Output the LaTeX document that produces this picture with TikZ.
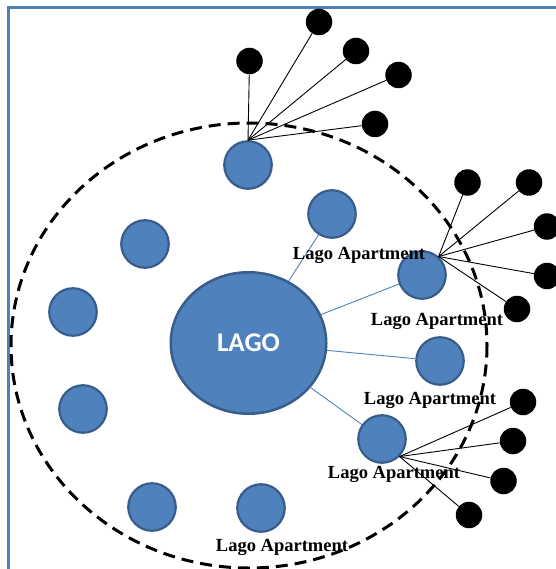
\documentclass[tikz,border=0pt]{standalone}
\usepackage{fontspec}
\setmainfont{Liberation Serif}
\newfontfamily\lagofont{Carlito}
\usetikzlibrary{shapes.geometric}
\definecolor{lagoblue}{HTML}{4F81BD}
\definecolor{lagoedge}{HTML}{385D8A}

\begin{document}
\begin{tikzpicture}[
		x=1pt, y=-1pt,
		every node/.style={
				font=\bfseries\fontsize{18.5}{20}\selectfont,
				inner sep=0pt,
			},
		house/.style={circle, fill=lagoblue, draw=lagoedge, line width=2.2pt, minimum size=47.5pt},
		user/.style={circle, fill=black, minimum size=26.5pt},
		link/.style={lagoblue, line width=0.9pt},
		spoke/.style={black, line width=0.9pt},]
	\useasboundingbox (0,0) rectangle (555,569);
	\draw [lagoblue, line width=2.5pt] (8.5,620) -- (8.5,7.5) -- (620,7.5);

	% centre and apartments
	\node[ellipse, fill=lagoblue, draw=lagoedge, line width=2.5pt,
		minimum width=155.5pt, minimum height=141.5pt,
		font=\lagofont\bfseries\fontsize{27}{29}\selectfont, text=white] (lago) at (248.5,343) {LAGO};
	\foreach \n/\p in {c1/{(248,165)}, c2/{(332,214)}, c3/{(422,275)}, c4/{(440,361)},
			c5/{(382,439)}, c6/{(261,508)}, c7/{(152,507)}, c8/{(83,409)},
			c9/{(73,312)}, c10/{(145,244)}} {
			\node[house] (\n) at \p {};
		}
	\foreach \n in {c2,c3,c4,c5} {
			\draw [link] (lago) -- (\n);
		}

	% labels
	\node (lbl1) at (359,255.5) {Lago Apartment};
	\node (lbl2) at (437,321) {Lago Apartment};
	\node (lbl3) at (430,400.5) {Lago Apartment};
	\node (lbl4) at (394,474.5) {Lago Apartment};
	\node (lbl5) at (282,547) {Lago Apartment};

	% users
	\coordinate (hubA) at (c1.north);
	\coordinate (hubB) at (c3.48);
	\coordinate (hubC) at (c5.-45);
	\foreach \n/\p/\h in {a1/{(249.5,61)}/hubA, a2/{(319,22)}/hubA, a3/{(356,51)}/hubA,
			a4/{(398.5,75)}/hubA, a5/{(375,124)}/hubA,
			b1/{(467.5,182.5)}/hubB, b2/{(529,182.5)}/hubB, b3/{(547,226.5)}/hubB,
			b4/{(547,276)}/hubB, b5/{(517,309)}/hubB,
			d1/{(523,402)}/hubC, d2/{(513,441)}/hubC, d3/{(503.5,481)}/hubC,
			d4/{(469,515)}/hubC} {
			\node[user] (\n) at \p {};
			\draw [spoke] (\h) -- (\n);
		}

	\draw [line width=3pt, dash pattern=on 12pt off 7pt] (249,345.5) ellipse [x radius=238, y radius=222.5];
\end{tikzpicture}
\end{document}
